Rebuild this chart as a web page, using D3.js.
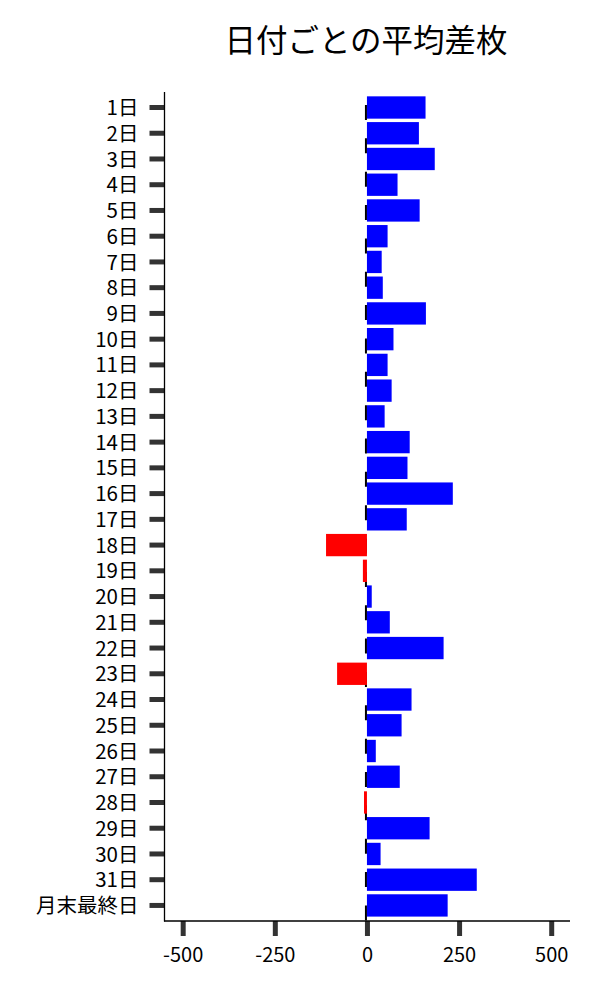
<!DOCTYPE html>
<html><head><meta charset="utf-8">
<script src="https://cdn.jsdelivr.net/npm/d3@7"></script>
<style>body{margin:0;background:#fff;} text{font-family:"Noto Sans CJK JP","Noto Sans",sans-serif;}</style>
</head><body>
<svg id="chart" width="600" height="1000"></svg>
<script>
const title = "日付ごとの平均差枚";
const categories = ["1日","2日","3日","4日","5日","6日","7日","8日","9日","10日","11日","12日","13日","14日","15日","16日","17日","18日","19日","20日","21日","22日","23日","24日","25日","26日","27日","28日","29日","30日","31日","月末最終日"];
const values = [159,141,184,83,143,56,40,43,160,72,56,67,48,116,110,233,108,-111,-11,13,62,208,-81,121,94,24,89,-8,170,37,298,219];
const xTicks = [-500,-250,0,250,500];

const svg = d3.select("#chart");
const x = d3.scaleLinear().domain([-548,551]).range([165,570]);
const step = 25.74;
const y = d3.scaleBand().domain(categories)
  .range([107.5 - step/2, 107.5 + step*31 + step/2])
  .paddingInner(0.133).paddingOuter(0.0665);

svg.append("text").attr("x",366).attr("y",43).attr("text-anchor","middle")
  .attr("dominant-baseline","middle").attr("font-size",31.5).attr("fill","#000").text(title);

// dashed zero line
svg.append("line").attr("x1",x(0)-1).attr("x2",x(0)-1).attr("y1",105).attr("y2",921)
  .attr("stroke","#000").attr("stroke-width",2).attr("stroke-dasharray","15,18.35");

// bars
svg.append("g").selectAll("rect").data(values).join("rect")
  .attr("x",(d)=>x(Math.min(0,d)))
  .attr("width",(d)=>Math.abs(x(d)-x(0)))
  .attr("y",(d,i)=>y(categories[i]))
  .attr("height",y.bandwidth())
  .attr("fill",(d)=>d<0?"#ff0000":"#0000ff");

// y axis
const yAxis = d3.axisLeft(y).tickSize(15).tickPadding(11);
const gy = svg.append("g").attr("transform","translate(164.5,0)").call(yAxis);
gy.select(".domain").remove();
gy.selectAll(".tick line").attr("stroke","#333").attr("stroke-width",5);
gy.selectAll(".tick text").attr("font-size",20.5).attr("fill","#000").attr("dy","0.37em")
  .attr("font-family","Noto Sans CJK JP");
svg.append("line").attr("x1",164.5).attr("x2",164.5).attr("y1",92).attr("y2",921.5).attr("stroke","#000").attr("stroke-width",1.3);

// x axis
const xAxis = d3.axisBottom(x).tickValues(xTicks).tickSize(15).tickPadding(12).tickFormat((d)=>String(d));
const gx = svg.append("g").attr("transform","translate(0,921)").call(xAxis);
gx.select(".domain").remove();
gx.selectAll(".tick line").attr("stroke","#333").attr("stroke-width",5);
gx.selectAll(".tick text").attr("font-size",20).attr("fill","#000").attr("font-family","Noto Sans CJK JP");
svg.append("line").attr("x1",164).attr("x2",570).attr("y1",921).attr("y2",921).attr("stroke","#000").attr("stroke-width",1.3);
</script>
</body></html>
